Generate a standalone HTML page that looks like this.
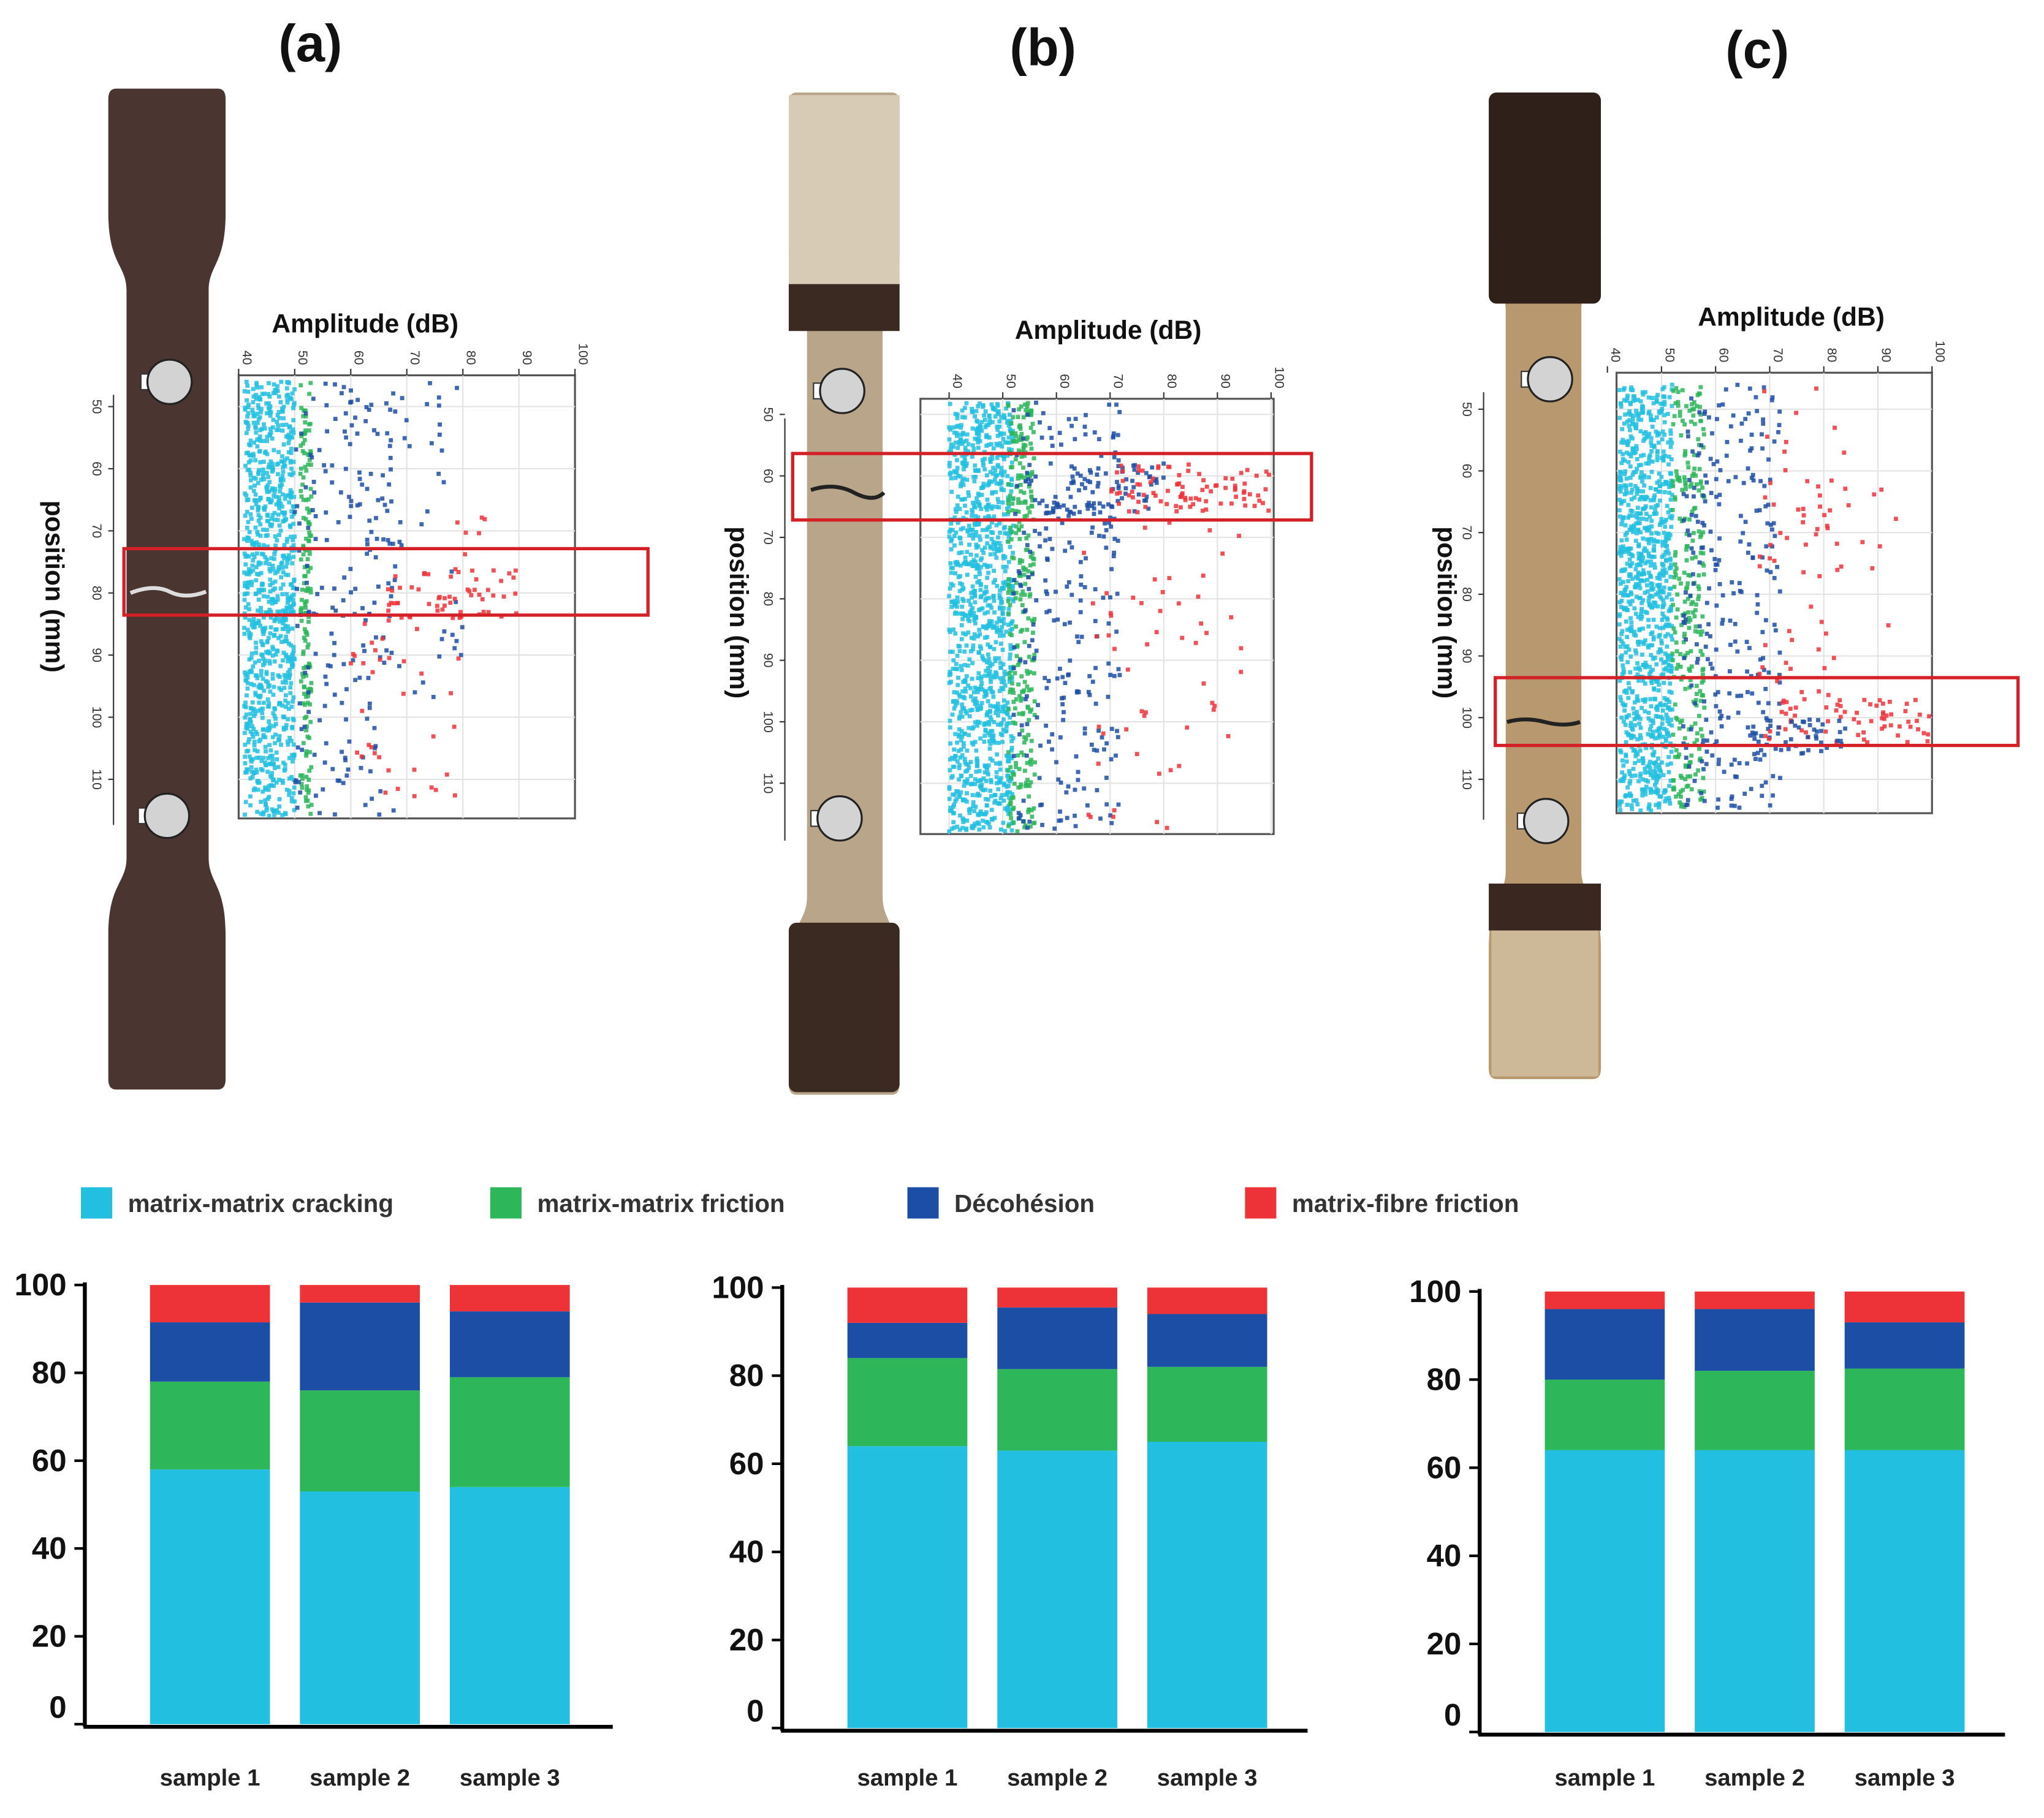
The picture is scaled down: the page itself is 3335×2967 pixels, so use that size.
<!DOCTYPE html>
<html><head><meta charset="utf-8"><style>
html,body{margin:0;padding:0;background:#fff}
svg{display:block}
text{font-family:"Liberation Sans","DejaVu Sans",sans-serif}
</style></head><body>
<svg id="root" width="3335" height="2967" viewBox="0 0 1560 1388" xmlns="http://www.w3.org/2000/svg">
<rect width="1560" height="1388" fill="#fff"/>
<g transform="translate(0,-2) scale(0.995,0.995)">
<g id="topPanels"></g>
<g id="legend"></g>
<g id="bars"></g>
</g>
</svg>
<script>
const NS="http://www.w3.org/2000/svg";
// ---- bar chart data ----
const sampleLabels=["sample 1","sample 2","sample 3"];
const seriesNames=["matrix-matrix cracking","matrix-matrix friction","Décohésion","matrix-fibre friction"];
const seriesColors=["#22bfe0","#2db65a","#1d4ea6","#ee3338"];
const yTicks=[0,20,40,60,80,100];
// chart a
const a_cracking=[58,53,54];
const a_friction=[20,23,25];
const a_decohesion=[13.5,20,15];
const a_fibre=[8.5,4,6];
// chart b
const b_cracking=[64,63,65];
const b_friction=[20,18.5,17];
const b_decohesion=[8,14,12];
const b_fibre=[8,4.5,6];
// chart c
const c_cracking=[64,64,64];
const c_friction=[16,18,18.5];
const c_decohesion=[16,14,10.5];
const c_fibre=[4,4,7];
const charts=[
 {axX:65,bot:1325,top:988,end:470,bars:[115,230,345],series:[a_cracking,a_friction,a_decohesion,a_fibre]},
 {axX:600,bot:1328,top:990,end:1003,bars:[650,765,880],series:[b_cracking,b_friction,b_decohesion,b_fibre]},
 {axX:1135,bot:1331,top:993,end:1538,bars:[1185,1300,1415],series:[c_cracking,c_friction,c_decohesion,c_fibre]}
];
function el(tag,attrs,parent,name,inter){const e=document.createElementNS(NS,tag);for(const k in attrs)e.setAttribute(k,attrs[k]);
 
 
 parent.appendChild(e);return e;}
const barsG=document.getElementById('bars');
charts.forEach((c,ci)=>{
 const g=el('g',{},barsG,'bar-chart-'+'abc'[ci],false);
 const y=v=>c.bot-(c.bot-c.top)*v/100;
 c.bars.forEach((bx,si)=>{
  let acc=0;
  c.series.forEach((s,k)=>{
   const v=s[si];
   el('rect',{x:bx,y:y(acc+v),width:92,height:y(acc)-y(acc+v),fill:seriesColors[k]},g,'bar-'+'abc'[ci]+'-s'+(si+1)+'-'+k,false);
   acc+=v;
  });
  const t=el('text',{x:bx+46,y:1372,'text-anchor':'middle','font-size':18,'font-weight':'bold',fill:'#222'},g,'x-label',false);t.textContent=sampleLabels[si];
 });
 el('line',{x1:c.axX,y1:c.top-2,x2:c.axX,y2:c.bot+2,stroke:'#000','stroke-width':3},g,'y-axis',false);
 el('line',{x1:c.axX-1,y1:c.bot+2,x2:c.end,y2:c.bot+2,stroke:'#000','stroke-width':3},g,'x-axis',false);
 yTicks.forEach(v=>{
  const yy=v===0?y(v)-13:y(v);
  el('line',{x1:c.axX-8,y1:y(v),x2:c.axX,y2:y(v),stroke:'#000','stroke-width':2},g,'y-tick',false);
  const t=el('text',{x:c.axX-14,y:yy+8,'text-anchor':'end','font-size':24,'font-weight':'bold',fill:'#111'},g,'y-tick-label',false);t.textContent=v;
 });
});
// legend
const lg=document.getElementById('legend');
const legX=[62,376,696,955];
seriesNames.forEach((n,i)=>{
 el('rect',{x:legX[i],y:913,width:24,height:24,fill:seriesColors[i]},lg,'legend-swatch',false);
 const t=el('text',{x:legX[i]+36,y:932,'font-size':19,'font-weight':'bold',fill:'#333'},lg,'legend-entry',false);t.textContent=n;
});
// ---- specimens & scatter ----
const topG=document.getElementById('topPanels');
function hash(n){let x=Math.sin(n*127.1+311.7)*43758.5453;return x-Math.floor(x);}
// scatter cluster definitions: [ampMin, ampMax, posMin, posMax, count, colorIndex]
const clustersA=[[41,50,46,116,900,0],[51,53,46,116,160,1],[50,68,46,116,170,2],[60,80,46,100,60,2],[66,90,76,84,55,3],[60,80,82,113,40,3],[78,88,65,75,6,3]];
const clustersB=[[40,52,48,118,1100,0],[51,56,48,118,280,1],[52,72,48,118,260,2],[62,80,58,66,60,2],[68,100,58,66,90,3],[65,95,66,118,55,3]];
const clustersC=[[42,52,46,116,1000,0],[52,58,46,116,260,1],[54,72,46,116,260,2],[68,84,46,100,60,3],[68,100,97,104,60,3],[66,84,100,106,50,2],[76,95,62,100,15,3]];
const panels=[
 {id:'a',title:[238,35],box:[183,290,441,630],ax:[40,183,100,441],py:[50,314,110,600],red:[95,423,402,51],
  spec:{x:83,w:90,top:70,bot:838,neckT:225,neckB:660,nx:97,nw:63,col:'#4a3530'},grips:[[130,295],[128,628]],clusters:clustersA,
  amp:[280,250],pos:[35,452]},
 {id:'b',title:[800,38],box:[706,308,977,642],ax:[40,728,100,975],py:[50,320,110,603],red:[608,350,398,51],
  spec:{x:605,w:85,top:73,bot:842,neckT:255,neckB:690,nx:619,nw:58,col:'#b9a58a'},grips:[[646,302],[644,630]],clusters:clustersB,
  amp:[850,255],pos:[560,472]},
 {id:'c',title:[1348,40],box:[1240,288,1482,626],ax:[40,1233,100,1482],py:[50,316,110,600],red:[1147,522,401,52],
  spec:{x:1142,w:86,top:73,bot:830,neckT:240,neckB:670,nx:1155,nw:58,col:'#b8986f'},grips:[[1189,293],[1186,632]],clusters:clustersC,
  amp:[1374,245],pos:[1103,472]}
];
panels.forEach((p,pi)=>{
 const g=el('g',{},topG,'panel-'+p.id,false);
 const t=el('text',{x:p.title[0],y:p.title[1]+14,'text-anchor':'middle','font-size':40,'font-weight':'bold',fill:'#111'},g,'panel-title-'+p.id,false);t.textContent='('+p.id+')';
 const s=p.spec,r=s.x+s.w,nr=s.nx+s.nw;
 const d=`M${s.x+6},${s.top} L${r-6},${s.top} Q${r},${s.top} ${r},${s.top+8} L${r},${s.neckT-60} C${r},${s.neckT-20} ${nr},${s.neckT-20} ${nr},${s.neckT} L${nr},${s.neckB} C${nr},${s.neckB+20} ${r},${s.neckB+20} ${r},${s.neckB+60} L${r},${s.bot-8} Q${r},${s.bot} ${r-6},${s.bot} L${s.x+6},${s.bot} Q${s.x},${s.bot} ${s.x},${s.bot-8} L${s.x},${s.neckB+60} C${s.x},${s.neckB+20} ${s.nx},${s.neckB+20} ${s.nx},${s.neckB} L${s.nx},${s.neckT} C${s.nx},${s.neckT-20} ${s.x},${s.neckT-20} ${s.x},${s.neckT-60} L${s.x},${s.top+8} Q${s.x},${s.top} ${s.x+6},${s.top} Z`;
 el('path',{d,fill:s.col},g,'specimen-'+p.id,false);
 if(p.id==='b'){
  el('rect',{x:s.x,y:s.top+2,width:s.w,height:145,fill:'#d8cbb6'},g,'grip-texture',false);
  el('rect',{x:s.x,y:220,width:s.w,height:36,fill:'#3b2a22'},g,'tab-band',false);
  el('rect',{x:s.x,y:710,width:s.w,height:130,fill:'#3a2a22',rx:6},g,'tab-bottom',false);
  el('path',{d:'M622,378 Q640,372 655,380 T678,380',stroke:'#222','stroke-width':3,fill:'none'},g,'crack',false);
 }
 if(p.id==='c'){
  el('rect',{x:s.x,y:s.top,width:s.w,height:162,fill:'#2f2019',rx:6},g,'tab-top',false);
  el('rect',{x:s.x,y:680,width:s.w,height:36,fill:'#3a2820'},g,'tab-band',false);
  el('rect',{x:s.x+2,y:716,width:s.w-4,height:112,fill:'#cdb898'},g,'grip-texture',false);
  el('path',{d:'M1156,556 Q1170,552 1185,556 T1212,556',stroke:'#222','stroke-width':3,fill:'none'},g,'crack',false);
 }
 if(p.id==='a'){
  el('path',{d:'M100,457 Q118,450 130,456 T158,456',stroke:'#ddd','stroke-width':3,fill:'none'},g,'crack',false);
 }
 p.grips.forEach(([cx,cy])=>{
  el('rect',{x:cx-22,y:cy-6,width:8,height:12,fill:'#fff',stroke:'#333','stroke-width':1},g,'grip-tab',false);
  el('circle',{cx,cy,r:17,fill:'#d3d3d3',stroke:'#222','stroke-width':1.5},g,'extensometer-clip',false);
 });
 const [bx0,by0,bx1,by1]=p.box;
 const xs=v=>p.ax[1]+(v-p.ax[0])*(p.ax[3]-p.ax[1])/(p.ax[2]-p.ax[0]);
 const ys=v=>p.py[1]+(v-p.py[0])*(p.py[3]-p.py[1])/(p.py[2]-p.py[0]);
 el('rect',{x:bx0,y:by0,width:bx1-bx0,height:by1-by0,fill:'#fff',stroke:'#555','stroke-width':1.5},g,'scatter-plot-area',false);
 for(let v=40;v<=100;v+=10){
  if(xs(v)>bx0+2&&xs(v)<bx1-1) el('line',{x1:xs(v),y1:by0,x2:xs(v),y2:by1,stroke:'#e3e3e3','stroke-width':1},g,'grid',false);
  el('line',{x1:xs(v),y1:by0-5,x2:xs(v),y2:by0,stroke:'#333'},g,'x-tick',false);
  const tt=el('text',{x:xs(v)+3,y:by0-8,'font-size':10,fill:'#333',transform:`rotate(90 ${xs(v)+3} ${by0-8})`,'text-anchor':'end'},g,'amp-tick-label',false);tt.textContent=v;
 }
 for(let v=50;v<=110;v+=10){
  el('line',{x1:bx0,y1:ys(v),x2:bx1,y2:ys(v),stroke:'#e3e3e3'},g,'grid',false);
 }
 const yax=p.id==='a'?87:(p.id==='b'?602:1138);
 el('line',{x1:yax,y1:by0+15,x2:yax,y2:by1+5,stroke:'#333'},g,'pos-axis',false);
 for(let v=50;v<=110;v+=10){
  const tx=yax-16,ty=ys(v);
  el('line',{x1:yax-4,y1:ty,x2:yax,y2:ty,stroke:'#333'},g,'pos-tick',false);
  const tt=el('text',{x:tx,y:ty,'font-size':10,fill:'#333','text-anchor':'middle',transform:`rotate(90 ${tx} ${ty})`},g,'pos-tick-label',false);tt.textContent=v;
 }
 let n=pi*100000;
 p.clusters.forEach(cl=>{
  for(let i=0;i<cl[4];i++){n++;
   const a=cl[0]+(cl[1]-cl[0])*hash(n*1.3), ps=cl[2]+(cl[3]-cl[2])*hash(n*2.7+5);
   const x=xs(a),y=ys(ps);
   if(x<bx0+2||x>bx1-2||y<by0+2||y>by1-2)continue;
   el('rect',{x:x-1.6,y:y-1.6,width:3.2,height:3.2,fill:seriesColors[cl[5]],opacity:0.85},g,'scatter-point',false);
  }
 });
 el('rect',{x:p.red[0],y:p.red[1],width:p.red[2],height:p.red[3],fill:'none',stroke:'#d42027','stroke-width':2.5},g,'highlight-box',false);
 const at=el('text',{x:p.amp[0],y:p.amp[1]+7,'text-anchor':'middle','font-size':20,'font-weight':'bold',fill:'#111'},g,'x-axis-title',false);at.textContent='Amplitude (dB)';
 const pt=el('text',{x:p.pos[0],y:p.pos[1],'text-anchor':'middle','font-size':20,'font-weight':'bold',fill:'#111',transform:`rotate(90 ${p.pos[0]} ${p.pos[1]})`},g,'y-axis-title',false);pt.textContent='position (mm)';
});
</script>
</body></html>
